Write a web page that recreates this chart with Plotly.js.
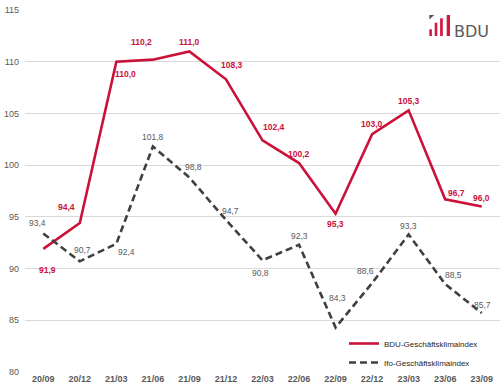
<!DOCTYPE html>
<html>
<head>
<meta charset="utf-8">
<script src="https://cdn.plot.ly/plotly-3.0.1.min.js"></script>
<style>html,body{margin:0;padding:0;background:#fff;}#chart{width:500px;height:391px;}</style>
</head>
<body>
<div id="chart"></div>
<script>
// ---- data ----
const quarters = ["20/09","20/12","21/03","21/06","21/09","21/12","22/03","22/06","22/09","22/12","23/03","23/06","23/09"];
const bduValues = [91.9, 94.4, 110.0, 110.2, 111.0, 108.3, 102.4, 100.2, 95.3, 103.0, 105.3, 96.7, 96.0];
const ifoValues = [93.4, 90.7, 92.4, 101.8, 98.8, 94.7, 90.8, 92.3, 84.3, 88.6, 93.3, 88.5, 85.7];
const seriesNames = ["BDU-Geschäftsklimaindex", "Ifo-Geschäftsklimaindex"];

// ---- label offsets (pixels: dx right, dy down) ----
const bduLabelOffsets = [[4,21],[-13,-16],[9,12],[-11,-18],[0,-9],[6,-14],[11,-13],[0,-9],[0,10],[0,-10],[0,-9],[11,-6],[0,-9]];
const ifoLabelOffsets = [[-6,-10],[3,-11],[10,8],[0,-10],[4,-11],[5,-9],[-2,13],[0,-9],[2,-30],[-7,-12],[0,-8],[8,-9],[1,-8]];

const RED = "#CC1139";
const DARK = "#404040";
const FONT = "Liberation Sans, Arial, sans-serif";

const fmt = v => v.toFixed(1).replace(".", ",");

const traces = [
  {x: quarters, y: bduValues, name: seriesNames[0], type: "scatter", mode: "lines",
   line: {color: RED, width: 2.6}, hoverinfo: "skip"},
  {x: quarters, y: ifoValues, name: seriesNames[1], type: "scatter", mode: "lines",
   line: {color: DARK, width: 2.6, dash: "7px,4px"}, hoverinfo: "skip"}
];

const annotations = [];
bduValues.forEach((v, i) => annotations.push({
  x: quarters[i], y: v, xref: "x", yref: "y", text: fmt(v), showarrow: false,
  xshift: bduLabelOffsets[i][0], yshift: -bduLabelOffsets[i][1],
  font: {family: FONT, size: 8.5, color: RED, weight: "bold"}
}));
ifoValues.forEach((v, i) => annotations.push({
  x: quarters[i], y: v, xref: "x", yref: "y", text: fmt(v), showarrow: false,
  xshift: ifoLabelOffsets[i][0], yshift: -ifoLabelOffsets[i][1],
  font: {family: FONT, size: 8.5, color: "#595959"}
}));

// logo (pixel layout -> paper coords)
const L = 25, R = 500, T = 10, B = 372;
const px = x => (x - L) / (R - L);
const py = y => (B - y) / (B - T);
const shapes = [];
[[429.3, 431.9, 29.3],[434.7, 437.3, 22.7],[440.1, 442.8, 18.3],[446.7, 450, 15]].forEach(b => shapes.push({
  type: "rect", xref: "paper", yref: "paper", x0: px(b[0]), x1: px(b[1]), y0: py(36), y1: py(b[2]),
  fillcolor: "#D4173F", line: {width: 0}
}));
shapes.push({type: "path", xref: "paper", yref: "paper",
  path: `M${px(429.3)},${py(15)} L${px(434.3)},${py(15)} L${px(429.3)},${py(19.5)} Z`,
  fillcolor: "#555555", line: {width: 0}});
annotations.push({xref: "paper", yref: "paper", x: px(452), y: py(31), xanchor: "left", yanchor: "middle",
  text: "BDU", showarrow: false, font: {family: "DejaVu Sans, Liberation Sans, sans-serif", size: 16, color: "#5a5a5a"}});

const layout = {
  width: 500, height: 391,
  margin: {l: 25, r: 0, t: 10, b: 19},
  paper_bgcolor: "#ffffff", plot_bgcolor: "#ffffff",
  showlegend: true,
  legend: {x: px(344), y: py(329), xanchor: "left", yanchor: "top",
    font: {family: FONT, size: 8, color: "#262626"}, bgcolor: "rgba(0,0,0,0)",
    tracegroupgap: 0, itemwidth: 30},
  xaxis: {type: "category", range: [-0.5, 12.5], showgrid: false, zeroline: false, showline: false,
    ticks: "", tickfont: {family: FONT, size: 9, color: "#595959", weight: "bold"}, fixedrange: true},
  yaxis: {range: [80, 115], dtick: 5, tick0: 80, showgrid: true, gridcolor: "#d9d9d9", gridwidth: 1,
    zeroline: false, showline: false, ticks: "", ticklabelstandoff: 5,
    tickfont: {family: FONT, size: 9, color: "#595959"}, fixedrange: true},
  annotations: annotations,
  shapes: shapes
};

Plotly.newPlot("chart", traces, layout, {displayModeBar: false, staticPlot: true});
</script>
</body>
</html>
